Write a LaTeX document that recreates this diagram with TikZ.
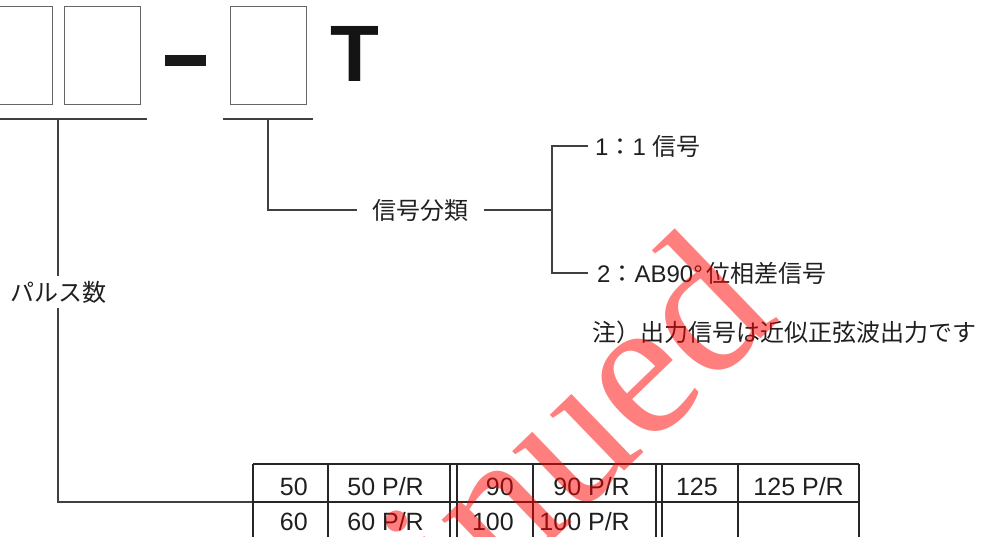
\documentclass[tikz,border=0pt]{standalone}
\usepackage{fontspec}
\setmainfont{Liberation Sans}
\newfontfamily\cjk{Noto Sans CJK JP}
\newfontfamily\wmserif{Liberation Serif}
\begin{document}
\begin{tikzpicture}[x=1pt,y=-1pt,
  ln/.style={draw=black!75, line width=1.1pt},
  bx/.style={draw=black!60, line width=0.9pt},
  tl/.style={draw=black!85, line width=1.1pt},
  lbl/.style={font=\fontsize{24}{28}\selectfont, text=black!88, inner sep=0pt},
  cell/.style={font=\fontsize{25}{28}\selectfont, text=black!88, anchor=base east, inner sep=0pt},
  wm/.style={font=\wmserif\fontsize{200}{200}\selectfont, text=red, text opacity=0.5, inner sep=0pt}]
\useasboundingbox (0,0) rectangle (982,537);
\clip (0,0) rectangle (982,537);
% code boxes
\draw[bx] (-20,6) rectangle (52,104);
\draw[bx] (64,6) rectangle (140,104);
\draw[bx] (230,6) rectangle (306,104);
\fill[black!90] (165,55) rectangle (206,66);
\node[font=\bfseries\fontsize{80}{80}\selectfont, text=black!92, inner sep=0pt, anchor=base west] (T) at (330,82) {T};
% underlines
\coordinate (u1a) at (-5,119); \coordinate (u1b) at (147,119);
\coordinate (u2a) at (223,119); \coordinate (u2b) at (313,119);
\draw[ln] (u1a) -- (u1b);
\draw[ln] (u2a) -- (u2b);
% pulse count branch
\coordinate (p1) at (58,119);
\coordinate (t0) at (253,502);
\node[lbl, inner xsep=0pt, inner ysep=5pt] (pulse) at (58,292) {\cjk パルス数};
\draw[ln] (p1) -- (pulse.north);
\draw[ln] (pulse.south) |- (t0);
% signal branch
\coordinate (s1) at (268,119);
\coordinate (br) at (552,210);
\node[lbl, inner xsep=15pt] (cls) at (420.5,210) {\cjk 信号分類};
\draw[ln] (s1) |- (cls.west);
\draw[ln] (cls.east) -- (br);
\node[lbl, anchor=west, inner xsep=7pt] (o1) at (588,146) {1{\cjk ：}1 {\cjk 信号}};
\node[lbl, anchor=west, inner xsep=9pt] (o2) at (588,273) {2{\cjk ：}AB90°\,{\cjk 位相差信号}};
\draw[ln] (o1.west) -| (br) |- (o2.west);
\node[lbl, anchor=west] (note) at (592,332) {\cjk 注）出力信号は近似正弦波出力です};
% table
\foreach \yy in {464,502,540} \draw[tl] (253,\yy) -- (859,\yy);
\foreach \xx in {253,328,450,457,533,656,662,738,859} \draw[tl] (\xx,464) -- (\xx,545);
\node[cell] (c11) at (308,495) {50};
\node[cell] (c12) at (424,495) {50 P/R};
\node[cell] (c13) at (514,495) {90};
\node[cell] (c14) at (630,495) {90 P/R};
\node[cell] (c15) at (718,495) {125};
\node[cell] (c16) at (844,495) {125 P/R};
\node[cell] (c21) at (308,530) {60};
\node[cell] (c22) at (424,530) {60 P/R};
\node[cell] (c23) at (514,530) {100};
\node[cell] (c24) at (630,530) {100 P/R};
% watermark
\node[wm, rotate=44, anchor=base east] (stamp) at (782,319) {Discontinued};
\end{tikzpicture}
\end{document}
